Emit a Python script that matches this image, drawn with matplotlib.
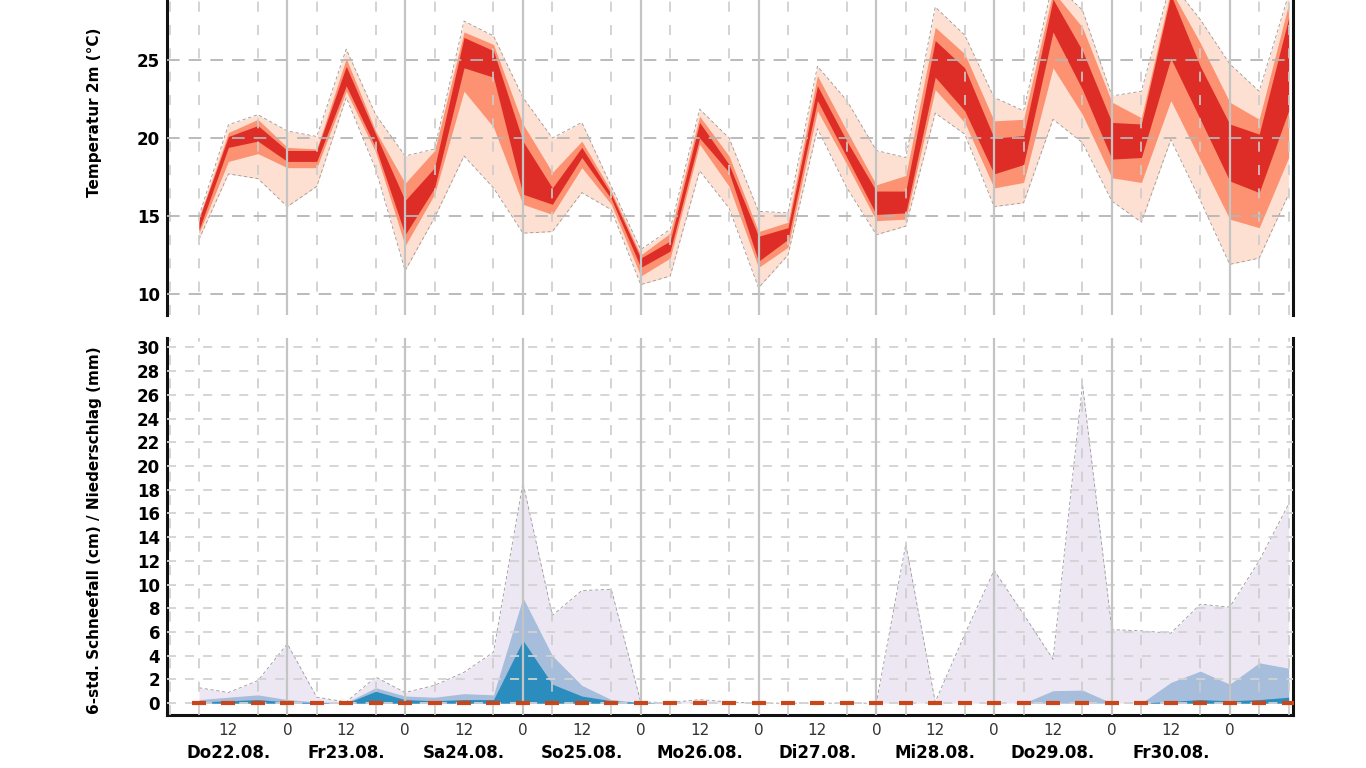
#!/usr/bin/env python3
"""
Ensemble meteogram: 2m temperature spread and 6-hourly precipitation / snowfall.
"""

import numpy as np
import matplotlib
matplotlib.use("Agg")
import matplotlib.pyplot as plt
from matplotlib.ticker import MultipleLocator, FixedLocator

# forecast steps: every 6 h, starting Do22.08. 06 UTC (hours since Do22.08. 00 UTC)
hours = list(range(6, 229, 6))

day_labels = ["Do22.08.", "Fr23.08.", "Sa24.08.", "So25.08.", "Mo26.08.",
              "Di27.08.", "Mi28.08.", "Do29.08.", "Fr30.08."]

# temperature 2m (°C): outer / middle / inner band limits
temp_outer_hi = [15.0, 20.85, 21.5, 20.45, 20.1, 25.7, 21.5, 18.85, 19.3, 27.5,
                 26.55, 22.6, 20.0, 21.0, 16.9, 12.85, 14.15, 21.85, 20.0, 15.3,
                 15.2, 24.6, 22.4, 19.2, 18.75, 28.4, 26.6, 22.6, 21.75, 30.0,
                 28.2, 22.7, 23.0, 30.0, 27.6, 24.75, 23.0, 29.2]
temp_mid_hi = [14.9, 20.35, 21.2, 19.4, 19.3, 25.1, 20.45, 17.1, 19.2, 26.8,
               26.0, 20.9, 17.8, 19.8, 16.6, 12.5, 13.9, 21.4, 18.85, 14.0,
               14.6, 24.0, 20.45, 17.0, 17.6, 27.1, 25.4, 21.1, 21.2, 29.4,
               27.1, 22.3, 21.3, 29.5, 26.1, 22.3, 21.2, 28.6]
temp_inner_hi = [14.8, 20.1, 20.8, 19.2, 19.2, 24.6, 20.25, 16.0, 18.1, 26.45,
                 25.6, 19.8, 16.8, 19.4, 16.4, 12.3, 13.4, 21.0, 18.3, 13.7,
                 14.25, 23.35, 19.8, 16.6, 16.6, 26.25, 24.5, 20.0, 20.15, 28.9,
                 25.6, 21.0, 20.9, 29.2, 24.6, 20.9, 20.25, 27.7]
temp_inner_lo = [14.1, 19.4, 19.8, 18.5, 18.5, 23.35, 19.4, 13.8, 16.8, 24.5,
                 23.9, 16.4, 15.75, 18.75, 16.1, 11.7, 12.75, 20.0, 17.8, 12.1,
                 13.5, 22.4, 18.75, 15.1, 15.2, 23.9, 21.75, 17.7, 18.3, 26.8,
                 23.1, 18.65, 18.75, 25.1, 21.2, 17.25, 16.5, 21.75]
temp_mid_lo = [13.9, 18.5, 19.0, 18.1, 18.1, 23.0, 19.1, 13.1, 16.4, 23.0,
               20.7, 15.75, 15.1, 18.1, 15.75, 11.15, 12.3, 19.6, 16.9, 11.7,
               13.0, 21.75, 18.3, 14.7, 14.8, 23.1, 21.0, 16.8, 17.15, 24.5,
               21.5, 17.45, 17.15, 22.4, 18.6, 14.8, 14.25, 18.75]
temp_outer_lo = [13.5, 17.7, 17.4, 15.6, 16.9, 22.6, 18.0, 11.5, 14.9, 18.85,
                 16.8, 13.9, 14.0, 16.5, 15.4, 10.6, 11.15, 17.9, 15.5, 10.4,
                 12.5, 20.6, 16.8, 13.8, 14.35, 21.6, 20.25, 15.6, 15.85, 21.2,
                 19.7, 15.95, 14.6, 19.9, 16.0, 11.9, 12.3, 16.4]

# 6-hourly precipitation (mm): outer / middle / inner band tops
precip_outer = [1.3, 0.9, 1.9, 5.0, 0.5, 0.1, 2.2, 0.9, 1.5, 2.6,
                4.3, 18.6, 7.4, 9.5, 9.6, 0.1, 0.05, 0.3, 0.1, 0.0,
                0.0, 0.0, 0.0, 0.0, 13.4, 0.1, 5.8, 11.2, 7.5, 3.7,
                26.9, 6.2, 6.1, 5.9, 8.35, 8.1, 12.0, 16.8]
precip_mid = [0.3, 0.5, 0.7, 0.3, 0.1, 0.05, 1.3, 0.6, 0.5, 0.8,
              0.7, 8.9, 4.0, 1.5, 0.3, 0.05, 0.0, 0.0, 0.0, 0.0,
              0.0, 0.0, 0.0, 0.0, 0.0, 0.0, 0.0, 0.0, 0.0, 1.05,
              1.1, 0.0, 0.0, 1.75, 2.7, 1.6, 3.4, 2.95]
precip_inner = [0.1, 0.2, 0.3, 0.1, 0.05, 0.0, 1.0, 0.3, 0.2, 0.3,
                0.3, 5.3, 1.6, 0.6, 0.2, 0.05, 0.0, 0.0, 0.0, 0.0,
                0.0, 0.0, 0.0, 0.0, 0.0, 0.0, 0.0, 0.0, 0.0, 0.0,
                0.0, 0.0, 0.0, 0.15, 0.3, 0.2, 0.3, 0.5]
# 6-hourly snowfall (cm)
snowfall = [0.0] * 38

REDS = ["#fee0d2", "#fc9272", "#de2d26"]
BLUES = ["#ece7f2", "#a6bddb", "#2b8cbe"]


def style_axes(ax, hgrid_color, hdash):
    ax.set_xlim(-0.5, 228.9)
    ax.xaxis.set_minor_locator(MultipleLocator(6))
    ax.xaxis.set_major_locator(FixedLocator(range(12, 217, 12)))
    ax.set_axisbelow(False)
    ax.grid(True, which="minor", axis="x", color="#cccccc", lw=1.2,
            ls=(0, (6, 8)))
    ax.grid(True, which="major", axis="y", color=hgrid_color, lw=1.3,
            ls=(0, hdash))
    for d in range(24, 217, 24):
        ax.axvline(d, color="#c4c4c4", lw=1.6, zorder=2.6)
    ax.spines["top"].set_visible(False)
    for side in ("left", "right", "bottom"):
        ax.spines[side].set_color("#111111")
        ax.spines[side].set_linewidth(2.2)
    ax.tick_params(which="both", length=0)
    ax.tick_params(axis="y", labelsize=12, pad=5)
    for lbl in ax.get_yticklabels():
        lbl.set_fontweight("bold")


def main():
    x = np.array(hours)
    fig = plt.figure(figsize=(13.66, 7.68), dpi=100)
    ax_t = fig.add_axes([0.1223, 0.5898, 0.8243, 0.4102])
    ax_p = fig.add_axes([0.1223, 0.069, 0.8243, 0.4909])

    # temperature
    ax_t.fill_between(x, temp_outer_lo, temp_outer_hi, color=REDS[0], lw=0, zorder=1)
    ax_t.fill_between(x, temp_mid_lo, temp_mid_hi, color=REDS[1], lw=0, zorder=1.1)
    ax_t.fill_between(x, temp_inner_lo, temp_inner_hi, color=REDS[2], lw=0, zorder=1.2)
    for edge in (temp_outer_lo, temp_outer_hi):
        ax_t.plot(x, edge, color="#999999", lw=0.6, ls=(0, (4, 3)), zorder=1.3)
    ax_t.set_ylim(8.65, 28.85)
    ax_t.set_yticks([10, 15, 20, 25])
    style_axes(ax_t, "#b5b5b5", (7, 5))
    ax_t.spines["bottom"].set_visible(False)
    ax_t.tick_params(axis="x", labelbottom=False)
    ax_t.set_ylabel("Temperatur 2m (°C)", fontsize=11, fontweight="bold")
    ax_t.yaxis.set_label_coords(-0.0575, 0.644)

    # precipitation / snowfall
    ax_p.fill_between(x, 0, precip_outer, color=BLUES[0], lw=0, zorder=1)
    ax_p.fill_between(x, 0, precip_mid, color=BLUES[1], lw=0, zorder=1.1)
    ax_p.fill_between(x, 0, precip_inner, color=BLUES[2], lw=0, zorder=1.2)
    ax_p.plot(x, precip_outer, color="#999999", lw=0.6, ls=(0, (4, 3)), zorder=1.3)
    ax_p.plot(x, snowfall, ls="none", marker="_", ms=10, mew=3,
              color="#c8461a", zorder=3)
    ax_p.set_ylim(-1.0, 30.8)
    ax_p.set_yticks(range(0, 31, 2))
    style_axes(ax_p, "#d2d2d2", (5, 5))
    ax_p.set_xticklabels(["0" if h % 24 == 0 else "12" for h in range(12, 217, 12)])
    ax_p.tick_params(axis="x", labelsize=11, labelcolor="#333333", pad=6)
    for i, lbl in enumerate(day_labels):
        ax_p.text(12 + 24 * i, -0.1, lbl, transform=ax_p.get_xaxis_transform(),
                  ha="center", va="center", fontsize=12, fontweight="bold")
    ax_p.set_ylabel("6-std. Schneefall (cm) / Niederschlag (mm)", fontsize=11,
                    fontweight="bold")
    ax_p.yaxis.set_label_coords(-0.0575, 0.49)

    fig.savefig("out.png", dpi=100)
    plt.close(fig)


if __name__ == "__main__":
    main()
